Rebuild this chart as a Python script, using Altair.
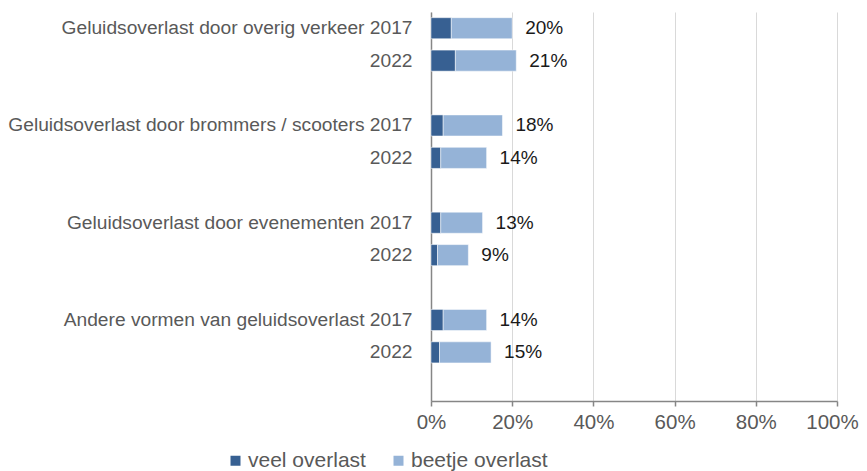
import altair as alt
import pandas as pd

groups = [
    "Geluidsoverlast door overig verkeer",
    "Geluidsoverlast door brommers / scooters",
    "Geluidsoverlast door evenementen",
    "Andere vormen van geluidsoverlast",
]
years = ["2017", "2022"]
veel = [5.0, 6.0, 3.0, 2.4, 2.4, 1.6, 3.0, 2.1]
beetje = [15.0, 15.0, 14.6, 11.3, 10.3, 7.6, 10.7, 12.7]
value_labels = ["20%", "21%", "18%", "14%", "13%", "9%", "14%", "15%"]
series = ["veel overlast", "beetje overlast"]
x_ticks = [0, 20, 40, 60, 80, 100]

# slot layout: two bars per group followed by an empty slot
slot_labels = []
bar_slots = []
for g in groups:
    for y in years:
        bar_slots.append(len(slot_labels))
        slot_labels.append(f"{g} {y}" if y == "2017" else y)
    slot_labels.append("")
n_slots = len(slot_labels)

rows = []
text_rows = []
for i, slot in enumerate(bar_slots):
    rows.append({"slot": slot, "serie": series[0], "ord": 0, "val": veel[i]})
    rows.append({"slot": slot, "serie": series[1], "ord": 1, "val": beetje[i]})
    text_rows.append({"slot": slot, "total": veel[i] + beetje[i], "lab": value_labels[i]})
df = pd.DataFrame(rows)
tdf = pd.DataFrame(text_rows)

label_expr = "[" + ",".join("'" + s.replace("'", "\\'") + "'" for s in slot_labels) + "][datum.value]"

y_enc = alt.Y(
    "slot:O",
    scale=alt.Scale(domain=list(range(n_slots)), paddingInner=0.35, paddingOuter=0.175),
    axis=alt.Axis(
        title=None, labelExpr=label_expr, ticks=False, tickSize=0, grid=False,
        labelFont="Liberation Sans", labelFontSize=19.2, labelColor="#595959",
        labelPadding=19, domainColor="#868686", domainWidth=1.5,
        minExtent=423, maxExtent=423, labelLimit=500,
    ),
)

bars = alt.Chart(df).mark_bar(stroke="white", strokeWidth=0.5).encode(
    x=alt.X(
        "val:Q", stack="zero",
        scale=alt.Scale(domain=[0, 100], nice=False),
        axis=alt.Axis(
            title=None, values=x_ticks, labelExpr="datum.value + '%'",
            grid=True, gridColor="#d9d9d9", gridWidth=1,
            domainColor="#868686", domainWidth=1.5, tickColor="#868686", tickSize=5,
            tickWidth=1.5, labelFont="Liberation Sans", labelFontSize=20.5,
            labelColor="#595959", labelPadding=6, labelFlush=False, labelOverlap=False,
            labelBound=False,
            labelOffset={"condition": {"test": "datum.value == 100", "value": -5}, "value": 0},
        ),
    ),
    y=y_enc,
    color=alt.Color(
        "serie:N",
        scale=alt.Scale(domain=series, range=["#376092", "#95B3D7"]),
        legend=alt.Legend(
            title=None, orient="none", direction="horizontal", legendX=-206, legendY=438,
            symbolType="square", symbolSize=100, symbolStrokeWidth=0,
            labelFont="Liberation Sans", labelFontSize=21, labelColor="#595959",
            labelOffset=2, columnPadding=22, padding=0,
        ),
    ),
    order=alt.Order("ord:Q"),
)

texts = alt.Chart(tdf).mark_text(
    align="left", baseline="middle", dx=13, font="Liberation Sans", fontSize=19, color="#1a1a1a"
).encode(
    x=alt.X("total:Q"),
    y=alt.Y("slot:O"),
    text="lab:N",
)

chart = alt.layer(bars, texts).properties(
    width=406, height=389,
    autosize=alt.AutoSizeParams(type="none"),
    padding={"left": 423, "top": 4, "right": 22, "bottom": 72},
).configure_view(stroke=None)

chart.save("out.html", embed_options={"renderer": "svg", "actions": False})
